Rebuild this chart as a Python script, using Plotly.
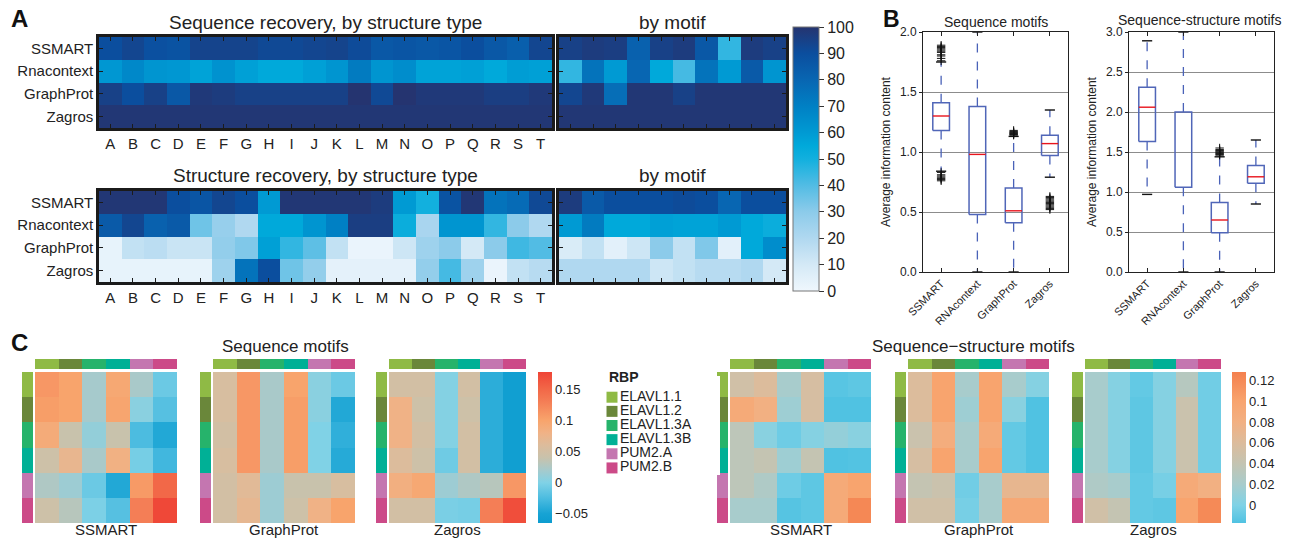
import plotly.graph_objects as go

W, H = 1294, 538

# ---------------- Panel A data (recovery, %) ----------------
struct_letters = list("ABCDEFGHIJKLMNOPQRST")
motif_ids = ["m1", "m2", "m3", "m4", "m5", "m6", "m7", "m8", "m9", "m10"]
tools_a = ["SSMART", "Rnacontext", "GraphProt", "Zagros"]

seq_by_struct = [
    [90, 93, 89, 88, 94, 94, 94, 92, 92, 93, 94, 91, 86, 87, 86, 87, 90, 86, 83, 93],
    [61, 67, 62, 61, 57, 63, 58, 55, 55, 58, 62, 72, 62, 65, 57, 57, 58, 55, 59, 58],
    [95, 90, 95, 86, 98, 97, 95, 95, 95, 95, 95, 100, 92, 100, 98, 98, 98, 96, 96, 98],
    [99, 99, 99, 99, 99, 99, 99, 99, 99, 99, 99, 99, 99, 99, 99, 99, 99, 99, 99, 99],
]
seq_by_motif = [
    [95, 97, 96, 82, 95, 97, 86, 45, 97, 95],
    [45, 75, 60, 80, 55, 42, 75, 60, 85, 62],
    [93, 98, 77, 99, 99, 95, 99, 99, 99, 99],
    [99, 99, 99, 99, 99, 99, 99, 99, 99, 99],
]
str_by_struct = [
    [99, 99, 99, 90, 87, 93, 90, 60, 99, 99, 99, 99, 97, 60, 50, 88, 99, 75, 78, 92],
    [85, 93, 82, 85, 35, 27, 20, 55, 55, 62, 70, 96, 96, 52, 22, 62, 62, 45, 30, 20],
    [3, 15, 17, 13, 13, 28, 32, 58, 45, 38, 15, 2, 2, 12, 25, 30, 10, 30, 43, 40],
    [3, 3, 3, 3, 3, 25, 75, 90, 35, 28, 4, 4, 4, 4, 28, 42, 25, 2, 15, 18],
]
str_by_motif = [
    [97, 85, 90, 90, 90, 91, 90, 80, 90, 90],
    [60, 72, 55, 55, 58, 57, 57, 60, 55, 52],
    [8, 15, 5, 12, 30, 15, 32, 5, 55, 65],
    [20, 20, 20, 20, 12, 15, 18, 18, 20, 10],
]
recovery_ticks = [0, 10, 20, 30, 40, 50, 60, 70, 80, 90, 100]

# ---------------- Panel B data (average information content) ----------------
tools_b = ["SSMART", "RNAcontext", "GraphProt", "Zagros"]
seq_q1 = [1.18, 0.48, 0.41, 0.97]
seq_med = [1.30, 0.98, 0.51, 1.07]
seq_q3 = [1.41, 1.38, 0.70, 1.14]
seq_lo = [0.84, 0.0, 0.0, 0.79]
seq_hi = [1.75, 2.0, 1.13, 1.35]
seq_outliers = {
    "SSMART": [1.76, 1.78, 1.80, 1.81, 1.83, 1.84, 1.85, 1.86, 1.87, 1.88, 1.89,
               0.83, 0.81, 0.80, 0.79, 0.78, 0.77, 0.76],
    "GraphProt": [1.14, 1.145, 1.15, 1.155, 1.16, 1.165, 1.17, 1.18],
    "Zagros": [0.52, 0.53, 0.54, 0.55, 0.56, 0.57, 0.58, 0.59, 0.60, 0.61, 0.62, 0.63],
}
ss_q1 = [1.63, 1.06, 0.49, 1.11]
ss_med = [2.06, None, 0.65, 1.19]
ss_q3 = [2.31, 2.0, 0.87, 1.33]
ss_lo = [0.97, 0.0, 0.0, 0.85]
ss_hi = [2.89, 3.0, 1.44, 1.65]
ss_outliers = {
    "GraphProt": [1.46, 1.47, 1.48, 1.49, 1.50, 1.51, 1.52, 1.53, 1.55],
}

# ---------------- Panel C data (correlations) ----------------
rbps = ["ELAVL1.1", "ELAVL1.2", "ELAVL1.3A", "ELAVL1.3B", "PUM2.A", "PUM2.B"]
rbp_colors = ["#8fba45", "#6a873a", "#26b36b", "#00b096", "#c476b0", "#cc4a88"]

seq_ssmart = [
    [0.110, 0.100, 0.020, 0.095, 0.022, -0.010],
    [0.105, 0.100, 0.020, 0.098, 0.005, -0.020],
    [0.090, 0.040, 0.010, 0.040, -0.025, -0.045],
    [0.045, 0.072, 0.022, 0.082, -0.005, -0.030],
    [0.025, 0.015, -0.010, -0.045, 0.108, 0.150],
    [0.045, 0.030, -0.002, -0.020, 0.130, 0.175],
]
seq_graphprot = [
    [0.055, 0.110, 0.022, 0.100, 0.005, -0.010],
    [0.055, 0.110, 0.022, 0.105, 0.005, -0.045],
    [0.050, 0.110, 0.022, 0.105, 0.000, -0.038],
    [0.055, 0.110, 0.022, 0.105, 0.000, -0.043],
    [0.050, 0.065, 0.015, 0.040, 0.040, 0.055],
    [0.050, 0.070, 0.015, 0.045, 0.080, 0.100],
]
seq_zagros = [
    [0.050, 0.050, 0.002, 0.050, -0.040, -0.058],
    [0.080, 0.045, 0.002, 0.045, -0.040, -0.058],
    [0.080, 0.050, 0.002, 0.050, -0.040, -0.058],
    [0.060, 0.045, -0.008, 0.050, -0.040, -0.058],
    [0.085, 0.095, 0.015, 0.025, 0.030, 0.110],
    [0.050, 0.050, -0.003, -0.005, 0.130, 0.170],
]
ss_ssmart = [
    [0.050, 0.060, 0.020, 0.055, -0.014, -0.012],
    [0.090, 0.080, 0.015, 0.055, -0.017, -0.017],
    [0.035, 0.005, -0.006, 0.003, 0.010, 0.005],
    [0.035, 0.040, 0.015, 0.040, -0.017, -0.016],
    [0.035, 0.025, -0.006, -0.012, 0.090, 0.100],
    [0.020, 0.020, -0.015, -0.012, 0.090, 0.122],
]
ss_graphprot = [
    [0.060, 0.100, 0.020, 0.100, 0.020, 0.003],
    [0.060, 0.100, 0.015, 0.100, 0.005, -0.017],
    [0.045, 0.085, 0.020, 0.090, -0.010, -0.017],
    [0.055, 0.100, 0.020, 0.100, -0.010, -0.017],
    [0.040, 0.045, -0.005, 0.020, 0.070, 0.070],
    [0.050, 0.050, -0.003, 0.020, 0.093, 0.093],
]
ss_zagros = [
    [0.020, 0.003, -0.010, 0.003, 0.030, -0.005],
    [0.020, 0.003, -0.012, 0.003, 0.045, -0.005],
    [0.020, 0.003, -0.012, 0.003, 0.045, -0.005],
    [0.020, 0.003, -0.012, 0.003, 0.045, -0.005],
    [0.025, 0.020, -0.010, -0.003, 0.090, 0.080],
    [0.050, 0.040, -0.010, -0.012, 0.100, 0.120],
]
seq_cb_ticks = [-0.05, 0, 0.05, 0.1, 0.15]
seq_cb_text = ["\u22120.05", "0", "0.05", "0.1", "0.15"]
ss_cb_ticks = [0, 0.02, 0.04, 0.06, 0.08, 0.1, 0.12]
ss_cb_text = ["0", "0.02", "0.04", "0.06", "0.08", "0.1", "0.12"]

# ---------------- helpers ----------------
FONT = "Liberation Sans, Arial, Helvetica, sans-serif"
TXT = "#222222"
layout = dict(
    width=W, height=H, margin=dict(l=0, r=0, t=0, b=0, pad=0, autoexpand=False),
    paper_bgcolor="white", plot_bgcolor="white", showlegend=False,
    font=dict(family=FONT, color=TXT, size=13),
)
traces = []
annotations = []
_count = [0]


def add_axes(x0, x1, y0, y1, xkw=None, ykw=None):
    _count[0] += 1
    k = _count[0]
    s = "" if k == 1 else str(k)
    xa = dict(domain=[x0 / W, x1 / W], anchor="y" + s, fixedrange=True, automargin=False,
              showgrid=False, zeroline=False)
    ya = dict(domain=[1 - y1 / H, 1 - y0 / H], anchor="x" + s, fixedrange=True, automargin=False,
              showgrid=False, zeroline=False)
    xa.update(xkw or {})
    ya.update(ykw or {})
    layout["xaxis" + s] = xa
    layout["yaxis" + s] = ya
    return "x" + s, "y" + s


def text(x, y, s, size, xanchor="center", bold=False, color=TXT):
    annotations.append(dict(
        x=x / W, y=1 - y / H, xref="paper", yref="paper", text=("<b>%s</b>" % s) if bold else s,
        showarrow=False, xanchor=xanchor, yanchor="middle",
        font=dict(family=FONT, size=size, color=color)))


def scale_from(stops, vmin, vmax):
    return [[(v - vmin) / (vmax - vmin), c] for v, c in stops]


# ---------------- Panel A ----------------
layout["coloraxis"] = dict(
    cmin=0, cmax=100,
    colorscale=[[0, "#eff7fd"], [0.1, "#d4e9f6"], [0.2, "#b0d8f0"], [0.3, "#8ccbea"],
                [0.4, "#52bce4"], [0.5, "#12b0de"], [0.55, "#00a9da"], [0.6, "#009ad3"],
                [0.7, "#0080c4"], [0.8, "#0866b2"], [0.9, "#0b4e9e"], [1.0, "#253470"]],
    colorbar=dict(x=793 / W, xanchor="left", xpad=0, y=1 - 159 / H, yanchor="middle", ypad=0,
                  len=264, lenmode="pixels", thickness=26, outlinewidth=1, outlinecolor="#777",
                  tickvals=recovery_ticks, ticks="outside", ticklen=5, tickcolor="#333",
                  tickfont=dict(size=16, family=FONT, color=TXT)),
)
frame = dict(showline=True, linewidth=2.5, linecolor="#1b1b1b", mirror="allticks",
             ticks="inside", ticklen=4, tickwidth=1, tickcolor="#1b1b1b")

for (yy0, yy1, z_struct, z_motif, title) in [
        (37, 128, seq_by_struct, seq_by_motif, "Sequence recovery, by structure type"),
        (191, 282, str_by_struct, str_by_motif, "Structure recovery, by structure type")]:
    xa, ya = add_axes(99, 552, yy0, yy1,
                      dict(frame, tickfont=dict(size=15)),
                      dict(frame, autorange="reversed", tickfont=dict(size=15)))
    traces.append(go.Heatmap(z=z_struct, x=struct_letters, y=tools_a, coloraxis="coloraxis",
                             xaxis=xa, yaxis=ya))
    xb, yb = add_axes(559, 786, yy0, yy1,
                      dict(frame, showticklabels=False),
                      dict(frame, autorange="reversed", showticklabels=False))
    traces.append(go.Heatmap(z=z_motif, x=motif_ids, y=tools_a, coloraxis="coloraxis",
                             xaxis=xb, yaxis=yb))
    text(325, yy0 - 15, title, 19)
    text(672, yy0 - 15, "by motif", 19)

# ---------------- Panel B ----------------
def box_panel(x0, x1, q1, med, q3, lo, hi, outliers, ymax, title, title_x, title_y):
    xa, ya = add_axes(
        x0, x1, 32, 272,
        dict(range=[-0.5, 3.5], tickvals=[0, 1, 2, 3], ticktext=tools_b, tickangle=-45,
             showline=True, linecolor="#222", linewidth=1, mirror="allticks",
             ticks="inside", ticklen=4, tickcolor="#222", tickfont=dict(size=11)),
        dict(range=[0, ymax], dtick=0.5, tickformat=".1f", showgrid=True, gridcolor="#8c8c8c",
             gridwidth=1, showline=True, linecolor="#222", linewidth=1, mirror=True,
             ticks="outside", ticklen=3, tickcolor="#222", tickfont=dict(size=12),
             title=dict(text="Average information content", font=dict(size=12), standoff=6)))
    bw, cw = 0.23, 0.14
    bx, by, mx, my, wx, wy, cx, cy = [], [], [], [], [], [], [], []
    for i in range(len(q1)):
        bx += [i - bw, i + bw, i + bw, i - bw, i - bw, None]
        by += [q1[i], q1[i], q3[i], q3[i], q1[i], None]
        if med[i] is not None:
            mx += [i - bw, i + bw, None]
            my += [med[i], med[i], None]
        wx += [i, i, None, i, i, None]
        wy += [q3[i], hi[i], None, q1[i], lo[i], None]
        cx += [i - cw, i + cw, None, i - cw, i + cw, None]
        cy += [hi[i], hi[i], None, lo[i], lo[i], None]
    traces.append(go.Scatter(x=wx, y=wy, mode="lines", xaxis=xa, yaxis=ya,
                             line=dict(color="#4a62b8", width=1.3, dash="dash")))
    traces.append(go.Scatter(x=cx, y=cy, mode="lines", xaxis=xa, yaxis=ya,
                             line=dict(color="#111", width=1.4)))
    traces.append(go.Scatter(x=bx, y=by, mode="lines", xaxis=xa, yaxis=ya,
                             line=dict(color="#5066b8", width=1.5)))
    traces.append(go.Scatter(x=mx, y=my, mode="lines", xaxis=xa, yaxis=ya,
                             line=dict(color="#e8141c", width=1.4)))
    ox, oy = [], []
    for name, vals in outliers.items():
        for v in vals:
            ox.append(tools_b.index(name))
            oy.append(v)
    traces.append(go.Scatter(x=ox, y=oy, mode="markers", xaxis=xa, yaxis=ya,
                             marker=dict(symbol="cross-thin", size=6,
                                         line=dict(color="#111", width=1))))
    text(title_x, title_y, title, 14)

box_panel(923, 1068, seq_q1, seq_med, seq_q3, seq_lo, seq_hi, seq_outliers, 2.0,
          "Sequence motifs", 996, 22)
box_panel(1129, 1274, ss_q1, ss_med, ss_q3, ss_lo, ss_hi, ss_outliers, 3.0,
          "Sequence-structure motifs", 1199, 20)

# ---------------- Panel C ----------------
seq_stops = [(-0.065, "#0c9ccf"), (-0.05, "#17a3d4"), (-0.025, "#4cbce0"), (0.0, "#80d2e6"),
             (0.02, "#a6cacc"), (0.04, "#c8c2ac"), (0.06, "#dcbc9c"), (0.08, "#f0b286"),
             (0.1, "#f8a46c"), (0.13, "#f47e56"), (0.15, "#f26848"), (0.178, "#ef4436")]
ss_stops = [(-0.017, "#50c2e2"), (0.0, "#7fd2e6"), (0.02, "#a8cccc"), (0.04, "#c4c4b2"),
            (0.06, "#dcbc9c"), (0.08, "#f2b082"), (0.1, "#f8a46e"), (0.128, "#f4804e")]

layout["coloraxis2"] = dict(
    cmin=-0.065, cmax=0.178, colorscale=scale_from(seq_stops, -0.065, 0.178),
    colorbar=dict(x=538 / W, xanchor="left", xpad=0, y=1 - 447.5 / H, yanchor="middle", ypad=0,
                  len=151, lenmode="pixels", thickness=14, outlinewidth=0,
                  tickvals=seq_cb_ticks, ticktext=seq_cb_text, ticks="",
                  tickfont=dict(size=13, family=FONT, color=TXT)))
layout["coloraxis3"] = dict(
    cmin=-0.017, cmax=0.128, colorscale=scale_from(ss_stops, -0.017, 0.128),
    colorbar=dict(x=1232 / W, xanchor="left", xpad=0, y=1 - 447.5 / H, yanchor="middle", ypad=0,
                  len=151, lenmode="pixels", thickness=14, outlinewidth=0,
                  tickvals=ss_cb_ticks, ticktext=ss_cb_text, ticks="",
                  tickfont=dict(size=13, family=FONT, color=TXT)))

rbp_scale = [[k / 5, c] for k, c in enumerate(rbp_colors)]
rbp_codes = list(range(len(rbps)))
hidden = dict(visible=False)


def corr_block(x0, x1, z, cax, label):
    xa, ya = add_axes(x0, x1, 372, 523, hidden, dict(hidden, autorange="reversed"))
    traces.append(go.Heatmap(z=z, x=rbps, y=rbps, coloraxis=cax, xaxis=xa, yaxis=ya))
    xc, yc = add_axes(x0, x1, 359, 369, hidden, hidden)
    traces.append(go.Heatmap(z=[rbp_codes], x=rbps, colorscale=rbp_scale, zmin=0, zmax=5,
                             showscale=False, xaxis=xc, yaxis=yc))
    xr, yr = add_axes(x0 - 13, x0 - 2, 372, 523, hidden, dict(hidden, autorange="reversed"))
    traces.append(go.Heatmap(z=[[c] for c in rbp_codes], y=rbps, colorscale=rbp_scale,
                             zmin=0, zmax=5, showscale=False, xaxis=xr, yaxis=yr))
    text((x0 + x1) / 2, 529, label, 15)

corr_block(35, 177, seq_ssmart, "coloraxis2", "SSMART")
corr_block(213, 355, seq_graphprot, "coloraxis2", "GraphProt")
corr_block(389, 526, seq_zagros, "coloraxis2", "Zagros")
corr_block(730, 871, ss_ssmart, "coloraxis3", "SSMART")
corr_block(908, 1049, ss_graphprot, "coloraxis3", "GraphProt")
corr_block(1085, 1221, ss_zagros, "coloraxis3", "Zagros")
text(285, 346, "Sequence motifs", 17)
text(973, 346, "Sequence\u2212structure motifs", 17)

# legend for RBP colours
xl, yl = add_axes(600, 720, 376, 475, dict(hidden, range=[0, 120]),
                  dict(hidden, range=[6.5, -0.5]))
traces.append(go.Scatter(x=[12] * len(rbps), y=[k + 1 for k in rbp_codes], mode="markers+text",
                         text=rbps, textposition="middle right",
                         textfont=dict(size=14, family=FONT, color=TXT),
                         marker=dict(symbol="square", size=11, color=rbp_colors),
                         xaxis=xl, yaxis=yl, cliponaxis=False))
text(607, 377, "RBP", 14, xanchor="left", bold=True)

# panel letters
text(19, 18, "A", 24, bold=True, color="#111")
text(891, 19, "B", 23, bold=True, color="#111")
text(19, 342, "C", 24, bold=True, color="#111")

layout["annotations"] = annotations
fig = go.Figure(data=traces, layout=layout)
fig.write_html("out.html", config={"displayModeBar": False},
               post_script="document.body.style.margin='0';document.body.style.overflow='hidden';")
